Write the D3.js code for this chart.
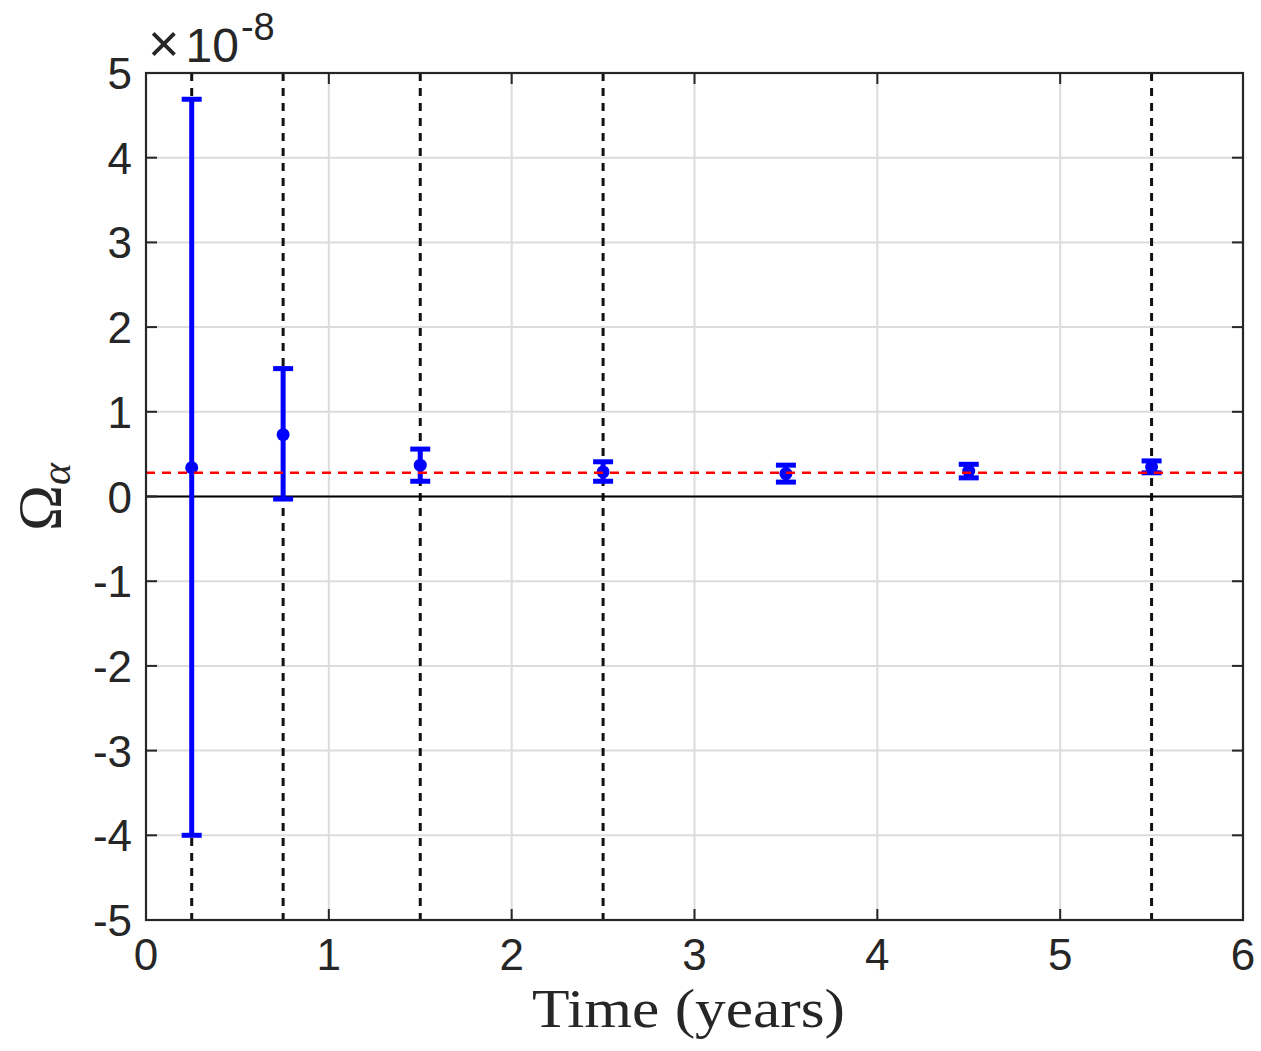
<!DOCTYPE html>
<html>
<head>
<meta charset="utf-8">
<script src="https://cdn.jsdelivr.net/npm/d3@7"></script>
<style>
  body { margin: 0; background: #fff; }
  svg text { fill: #262626; }
</style>
</head>
<body>
<svg id="chart" width="1261" height="1051"></svg>
<script>
// values in units of 1e-8
var times = [0.25, 0.75, 1.5, 2.5, 3.5, 4.5, 5.5];
var omega = [0.34, 0.73, 0.37, 0.29, 0.27, 0.30, 0.35];
var upper = [4.69, 1.51, 0.56, 0.41, 0.37, 0.38, 0.42];
var lower = [-4.0, -0.03, 0.18, 0.18, 0.17, 0.22, 0.28];
var vlineTimes = [0.25, 0.75, 1.5, 2.5, 5.5];
var meanValue = 0.28;
var xTicks = [0, 1, 2, 3, 4, 5, 6];
var yTicks = [-5, -4, -3, -2, -1, 0, 1, 2, 3, 4, 5];

var svg = d3.select("#chart");
var L = 146, R = 1243, T = 73, B = 920;

var x = d3.scaleLinear().domain([0, 6]).range([L, R]);
var y = d3.scaleLinear().domain([-5, 5]).range([B, T]);

var g = svg.append("g");

// grid
g.selectAll(".gx").data(xTicks.slice(1, -1)).enter().append("line")
  .attr("x1", d => x(d)).attr("x2", d => x(d)).attr("y1", T).attr("y2", B)
  .attr("stroke", "#dcdcdc").attr("stroke-width", 2);
g.selectAll(".gy").data(yTicks.slice(1, -1)).enter().append("line")
  .attr("x1", L).attr("x2", R).attr("y1", d => y(d)).attr("y2", d => y(d))
  .attr("stroke", "#dcdcdc").attr("stroke-width", 2);

// dashed verticals
g.selectAll(".vl").data(vlineTimes).enter().append("line")
  .attr("x1", d => x(d)).attr("x2", d => x(d)).attr("y1", T).attr("y2", B)
  .attr("stroke", "#111").attr("stroke-width", 3).attr("stroke-dasharray", "8,7");

// zero line
g.append("line").attr("x1", L).attr("x2", R).attr("y1", y(0)).attr("y2", y(0))
  .attr("stroke", "#000").attr("stroke-width", 2.2);

// error bars
var cap = 20, ew = 5;
var eb = g.selectAll(".eb").data(times).enter().append("g").attr("fill", "#0000ff").attr("stroke", "#0000ff");
eb.append("line")
  .attr("x1", d => x(d)).attr("x2", d => x(d))
  .attr("y1", (d, i) => y(upper[i])).attr("y2", (d, i) => y(lower[i]))
  .attr("stroke-width", ew);
eb.append("line")
  .attr("x1", d => x(d) - cap / 2).attr("x2", d => x(d) + cap / 2)
  .attr("y1", (d, i) => y(upper[i])).attr("y2", (d, i) => y(upper[i]))
  .attr("stroke-width", ew);
eb.append("line")
  .attr("x1", d => x(d) - cap / 2).attr("x2", d => x(d) + cap / 2)
  .attr("y1", (d, i) => y(lower[i])).attr("y2", (d, i) => y(lower[i]))
  .attr("stroke-width", ew);
eb.append("circle")
  .attr("cx", d => x(d)).attr("cy", (d, i) => y(omega[i]))
  .attr("r", 6.5).attr("stroke", "none");

// mean line
g.append("line").attr("x1", L).attr("x2", R).attr("y1", y(meanValue)).attr("y2", y(meanValue))
  .attr("stroke", "#ff0000").attr("stroke-width", 2.5).attr("stroke-dasharray", "9,7");

// frame
g.append("rect").attr("x", L).attr("y", T).attr("width", R - L).attr("height", B - T)
  .attr("fill", "none").attr("stroke", "#262626").attr("stroke-width", 2.2);

// ticks, inside on all four sides
var tk = 11;
g.selectAll(".txb").data(xTicks).enter().append("line")
  .attr("x1", d => x(d)).attr("x2", d => x(d)).attr("y1", B).attr("y2", B - tk)
  .attr("stroke", "#262626").attr("stroke-width", 2);
g.selectAll(".txt").data(xTicks).enter().append("line")
  .attr("x1", d => x(d)).attr("x2", d => x(d)).attr("y1", T).attr("y2", T + tk)
  .attr("stroke", "#262626").attr("stroke-width", 2);
g.selectAll(".tyl").data(yTicks).enter().append("line")
  .attr("x1", L).attr("x2", L + tk).attr("y1", d => y(d)).attr("y2", d => y(d))
  .attr("stroke", "#262626").attr("stroke-width", 2);
g.selectAll(".tyr").data(yTicks).enter().append("line")
  .attr("x1", R).attr("x2", R - tk).attr("y1", d => y(d)).attr("y2", d => y(d))
  .attr("stroke", "#262626").attr("stroke-width", 2);

// tick labels
var tickFont = "'Liberation Sans', Helvetica, Arial, sans-serif";
g.selectAll(".lx").data(xTicks).enter().append("text")
  .attr("x", d => x(d)).attr("y", B + 50)
  .attr("text-anchor", "middle").attr("font-family", tickFont).attr("font-size", 44)
  .text(d => d);
g.selectAll(".ly").data(yTicks).enter().append("text")
  .attr("x", L - 14).attr("y", d => y(d) + 16)
  .attr("text-anchor", "end").attr("font-family", tickFont).attr("font-size", 44)
  .text(d => d);

// exponent
var ex = g.append("text").attr("x", 148).attr("y", 62).attr("font-family", tickFont).attr("font-size", 48);
ex.append("tspan").text("\u00d7").attr("font-size", 54).attr("font-weight", 300);
ex.append("tspan").text("10").attr("dx", 6);
ex.append("tspan").text("-8").attr("font-size", 38).attr("dy", -22).attr("dx", 2);

// axis labels
var serif = "'Liberation Serif', 'DejaVu Serif', serif";
g.append("text").attr("x", 532).attr("y", 1027)
  .attr("font-family", serif).attr("font-size", 54)
  .attr("textLength", 313).attr("lengthAdjust", "spacingAndGlyphs")
  .text("Time (years)");

var yl = g.append("text").attr("transform", "translate(60,497) rotate(-90)")
  .attr("text-anchor", "middle").attr("font-family", serif).attr("font-size", 62);
yl.append("tspan").text("\u03a9");
yl.append("tspan").text("\u03b1").attr("font-style", "italic").attr("font-size", 42).attr("dy", 10);
</script>
</body>
</html>
